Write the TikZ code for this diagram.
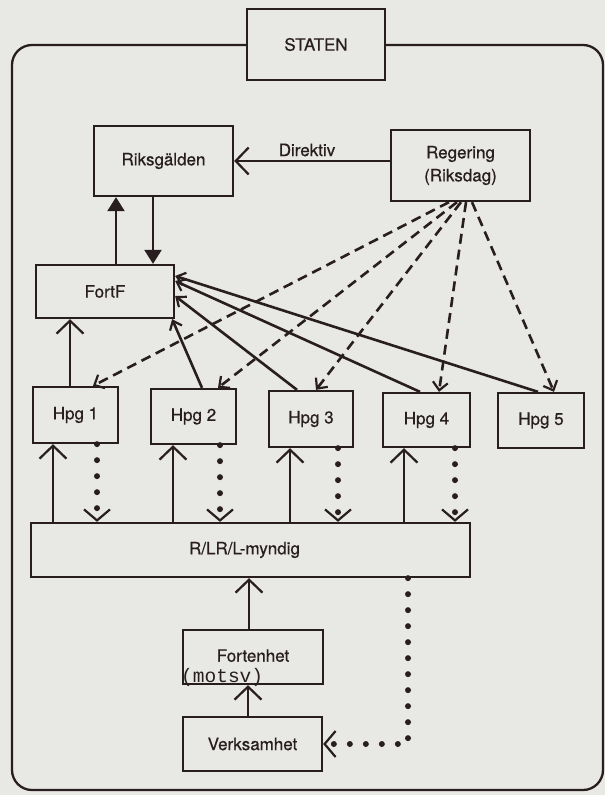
\documentclass[tikz,border=0pt]{standalone}
\usepackage{fontspec}
\setmainfont{TeX Gyre Heros}[FakeBold=0.6]
\newfontfamily\motsvfont{Liberation Mono}
\usetikzlibrary{arrows.meta}
\definecolor{paper}{RGB}{232,232,229}
\definecolor{ink}{RGB}{40,30,32}
\begin{document}
\begin{tikzpicture}[x=1pt,y=-1pt,
  box/.style={draw=ink, line width=2.3pt, fill=paper, inner sep=0pt, text=ink,
              font=\fontsize{17}{23}\selectfont, align=center},
  lbl/.style={text=ink, inner sep=0pt, font=\fontsize{17}{20}\selectfont},
  conn/.style={draw=ink, line width=2.3pt},
  openhead/.style={conn, -{Straight Barb[length=13pt,width=27pt,line width=2.2pt]}},
  smallhead/.style={conn, line width=2.6pt, -{Straight Barb[length=8pt,width=13pt,line width=2.2pt]}},
  dashhead/.style={conn, line width=2.6pt, dash pattern=on 10pt off 6pt, -{Straight Barb[length=8pt,width=15pt,line width=2.2pt]}},
  trihead/.style={conn, -{Triangle[length=14pt,width=17pt]}},
  dotflow/.style={draw=ink, line width=6pt, line cap=round, dash pattern=on 0pt off 16pt,
                  -{Straight Barb[length=11pt,width=26pt,line width=2.2pt]}},
]
% page
\fill[paper] (0,0) rectangle (605,795);
\useasboundingbox (0,0) rectangle (605,795);
% outer frame
\draw[ink, line width=2.3pt, rounded corners=20pt] (12,45) rectangle (603,790);

% boxes
\node[box, minimum width=138pt, minimum height=71pt] (staten) at (316,44.5) {STATEN};
\node[box, minimum width=139pt, minimum height=70pt] (riks) at (163.5,161) {Riksgälden};
\node[box, minimum width=139pt, minimum height=71pt] (reg) at (460.5,165.5) {Regering\\(Riksdag)};
\node[box, minimum width=138pt, minimum height=53pt] (fortf) at (105,291.5) {FortF};
\node[box, minimum width=85pt, minimum height=56pt] (hpg1) at (75.5,415) {Hpg 1};
\node[box, minimum width=85pt, minimum height=55pt] (hpg2) at (193.5,416.5) {Hpg 2};
\node[box, minimum width=84pt, minimum height=56pt] (hpg3) at (311,419) {Hpg 3};
\node[box, minimum width=87pt, minimum height=54pt] (hpg4) at (426.5,420) {Hpg 4};
\node[box, minimum width=86pt, minimum height=55pt] (hpg5) at (541,420.5) {Hpg 5};
\node[box, minimum width=439pt, minimum height=54pt] (myndig) at (250.5,550) {\hspace*{-12pt}R/LR/L-myndig};
\node[box, minimum width=140pt, minimum height=54pt] (forten) at (253,657) {\raisebox{3pt}{Fortenhet}};
\node[box, minimum width=139pt, minimum height=54pt] (verks) at (252.5,744) {Verksamhet};
\node[text=ink, inner sep=0pt, anchor=base west, font=\motsvfont\fontsize{19.5}{20}\selectfont] (motsv) at (181,682) {(motsv)};

% x positions of vertical connectors
\coordinate (x53) at (53,0);
\coordinate (x70) at (70,0);
\coordinate (x97) at (97,0);
\coordinate (x116) at (116,0);
\coordinate (x153) at (153,0);
\coordinate (x173) at (173,0);
\coordinate (x220) at (220,0);
\coordinate (x248) at (248,0);
\coordinate (x249) at (249,0);
\coordinate (x290) at (290,0);
\coordinate (x338) at (338,0);
\coordinate (x404) at (404,0);
\coordinate (x408) at (408,0);
\coordinate (x455) at (455,0);

% Riksgälden <-> FortF
\draw[trihead] (fortf.north -| x116) -- (riks.south -| x116);
\draw[trihead] (riks.south -| x153) -- (fortf.north -| x153);

% Direktiv
\draw[openhead] (reg.west |- riks.east) -- (riks.east);
\node[lbl] (dirlbl) at (307,150) {Direktiv};

% Hpg 1 -> FortF
\draw[openhead] (hpg1.north -| x70) -- (fortf.south -| x70);

% Hpg 2..5 -> FortF
\draw[smallhead] ([xshift=8.5pt]hpg2.north) -- ([xshift=-3pt]fortf.south east);
\draw[smallhead] ([xshift=-14pt]hpg3.north) -- ([yshift=-4.5pt]fortf.east);
\draw[smallhead] ([xshift=-6.5pt]hpg4.north) -- ([yshift=10.5pt]fortf.east);
\draw[smallhead] ([xshift=-3pt]hpg5.north) -- ([yshift=15.5pt]fortf.east);

% Regering -> Hpg (dashed)
\draw[dashhead] ([xshift=-11.5pt]reg.south) -- ([xshift=17.5pt]hpg1.north);
\draw[dashhead] ([xshift=-3.5pt]reg.south) -- ([xshift=24.5pt]hpg2.north);
\draw[dashhead] ([xshift=0.5pt]reg.south) -- ([xshift=5pt]hpg3.north);
\draw[dashhead] ([xshift=5.5pt]reg.south) -- ([xshift=12.5pt]hpg4.north);
\draw[dashhead] ([xshift=11.5pt]reg.south) -- ([xshift=13pt]hpg5.north);

% myndig -> Hpg (solid up)
\draw[openhead] (myndig.north -| x53) -- (hpg1.south -| x53);
\draw[openhead] (myndig.north -| x173) -- (hpg2.south -| x173);
\draw[openhead] (myndig.north -| x290) -- (hpg3.south -| x290);
\draw[openhead] (myndig.north -| x404) -- (hpg4.south -| x404);

% Hpg -> myndig (dotted down)
\draw[dotflow] (hpg1.south -| x97) -- (myndig.north -| x97);
\draw[dotflow] (hpg2.south -| x220) -- (myndig.north -| x220);
\draw[dotflow] (hpg3.south -| x338) -- (myndig.north -| x338);
\draw[dotflow] (hpg4.south -| x455) -- (myndig.north -| x455);

% lower part
\draw[openhead] (forten.north -| x249) -- (myndig.south -| x249);
\draw[openhead] (verks.north -| x248) -- (forten.south -| x248);
\draw[dotflow] (myndig.south -| x408) -- (x408 |- verks.east) -- (verks.east);
\end{tikzpicture}
\end{document}
